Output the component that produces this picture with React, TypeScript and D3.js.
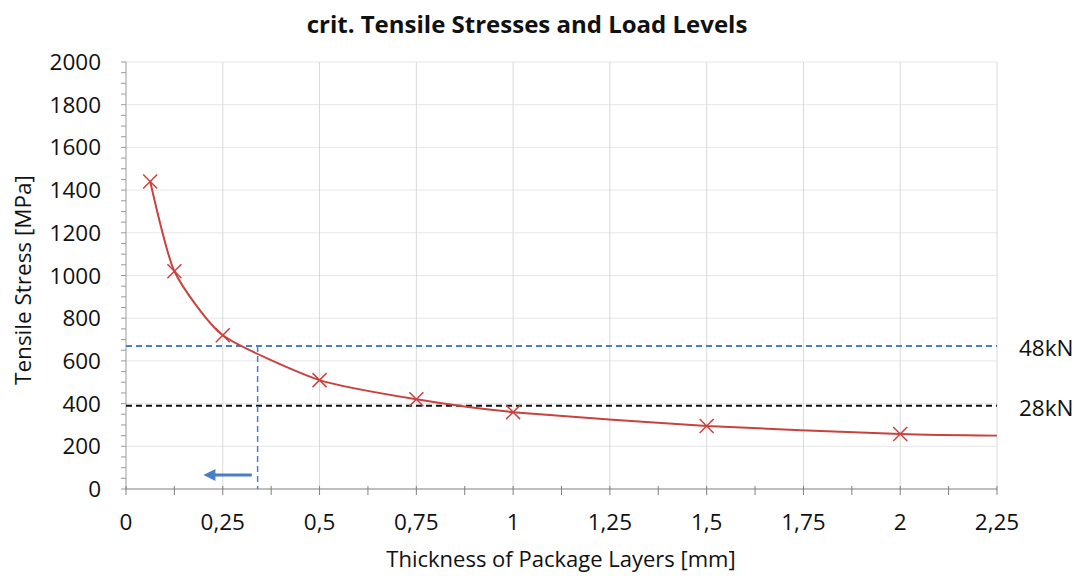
import React from "react";
import * as d3 from "d3";

const thickness = [0.0625, 0.125, 0.25, 0.5, 0.75, 1, 1.5, 2, 2.25];
const stress = [1440, 1020, 720, 510, 420, 360, 295, 258, 250];
const showMarker = [true, true, true, true, true, true, true, true, false];
const xTicks = [0, 0.25, 0.5, 0.75, 1, 1.25, 1.5, 1.75, 2, 2.25];
const yTicks = [0, 200, 400, 600, 800, 1000, 1200, 1400, 1600, 1800, 2000];
const loadLevels = [
  { label: "48kN", value: 670, color: "#4a7ec8" },
  { label: "28kN", value: 390, color: "#111111" },
];
const intersectX = 0.34;
const arrowY = [0.325, 0.2, 65];

const W = 1078, H = 576;
const M = { left: 126, right: 997, top: 62, bottom: 489 };
const FONT = "'Open Sans', 'Noto Sans', sans-serif";

export default function App() {
  const x = d3.scaleLinear().domain([0, 2.25]).range([M.left, M.right]);
  const y = d3.scaleLinear().domain([0, 2000]).range([M.bottom, M.top]);
  const line = d3.line<number>()
    .x((_, i) => x(thickness[i]))
    .y((d) => y(d))
    .curve(d3.curveCardinal.tension(0.4));
  const fmt = (v: number) => String(v).replace(".", ",");
  const xMinor = d3.range(0, 2.25 + 1e-9, 0.125);
  const yMinor = d3.range(0, 2000 + 1e-9, 50);
  return (
    <svg width={W} height={H} style={{ position: "absolute", left: 0, top: 0, background: "#fff" }}>
      <rect width={W} height={H} fill="#fff" />
      <text x={527} y={33} textAnchor="middle" fontFamily={FONT} fontWeight="bold" fontSize={24} fill="#111">
        crit. Tensile Stresses and Load Levels
      </text>
      {/* grid */}
      {yTicks.slice(1).map((t) => (
        <line key={"gy" + t} x1={M.left} x2={M.right} y1={y(t)} y2={y(t)} stroke="#e6e6e6" strokeWidth={1} />
      ))}
      {xTicks.slice(1).map((t) => (
        <line key={"gx" + t} x1={x(t)} x2={x(t)} y1={M.top} y2={M.bottom} stroke="#d9d9d9" strokeWidth={1} />
      ))}
      {/* axes */}
      <line x1={M.left} x2={M.left} y1={M.top} y2={M.bottom} stroke="#9a9a9a" strokeWidth={1} />
      {yMinor.map((t) => (
        <line key={"ym" + t} x1={M.left - 5} x2={M.left} y1={y(t)} y2={y(t)} stroke="#9a9a9a" strokeWidth={1} />
      ))}
      <line x1={M.left} x2={M.right} y1={M.bottom} y2={M.bottom} stroke="#7f7f7f" strokeWidth={1} />
      {xMinor.map((t) => (
        <line key={"xm" + t} x1={x(t)} x2={x(t)} y1={M.bottom - 3} y2={M.bottom + 6} stroke="#7f7f7f" strokeWidth={1} />
      ))}
      {yTicks.map((t) => (
        <text key={"yl" + t} x={101} y={y(t) + 8} textAnchor="end" fontFamily={FONT} fontSize={22.5} fill="#111">
          {t}
        </text>
      ))}
      {xTicks.map((t) => (
        <text key={"xl" + t} x={x(t)} y={530} textAnchor="middle" fontFamily={FONT} fontSize={22.5} fill="#111">
          {fmt(t)}
        </text>
      ))}
      <text x={561} y={567} textAnchor="middle" fontFamily={FONT} fontSize={22} fill="#111">
        Thickness of Package Layers [mm]
      </text>
      <text transform="translate(31,280) rotate(-90)" textAnchor="middle" fontFamily={FONT} fontSize={22.5} fill="#111">
        Tensile Stress [MPa]
      </text>
      {/* load levels */}
      {loadLevels.map((l) => (
        <g key={l.label}>
          <line x1={M.left} x2={M.right} y1={y(l.value)} y2={y(l.value)} stroke={l.color} strokeWidth={2} strokeDasharray="6,4" />
          <text x={1019} y={y(l.value) + 10} fontFamily={FONT} fontSize={22.5} fill="#111">{l.label}</text>
        </g>
      ))}
      <line x1={x(intersectX)} x2={x(intersectX)} y1={y(loadLevels[0].value)} y2={M.bottom} stroke="#4a7ec8" strokeWidth={1.5} strokeDasharray="6,4" />
      {/* arrow */}
      <line x1={x(arrowY[0])} x2={x(arrowY[1]) + 10} y1={y(arrowY[2])} y2={y(arrowY[2])} stroke="#4a7ec8" strokeWidth={3} />
      <path d={`M${x(arrowY[1])},${y(arrowY[2])} l12,-6 l0,12 z`} fill="#4a7ec8" />
      {/* series */}
      <path d={line(stress) || ""} fill="none" stroke="#c8423f" strokeWidth={2} />
      {stress.map((v, i) =>
        showMarker[i] ? (
          <g key={"m" + i} stroke="#c8423f" strokeWidth={1.5}>
            <line x1={x(thickness[i]) - 7} x2={x(thickness[i]) + 7} y1={y(v) - 7} y2={y(v) + 7} />
            <line x1={x(thickness[i]) - 7} x2={x(thickness[i]) + 7} y1={y(v) + 7} y2={y(v) - 7} />
          </g>
        ) : null
      )}
    </svg>
  );
}
